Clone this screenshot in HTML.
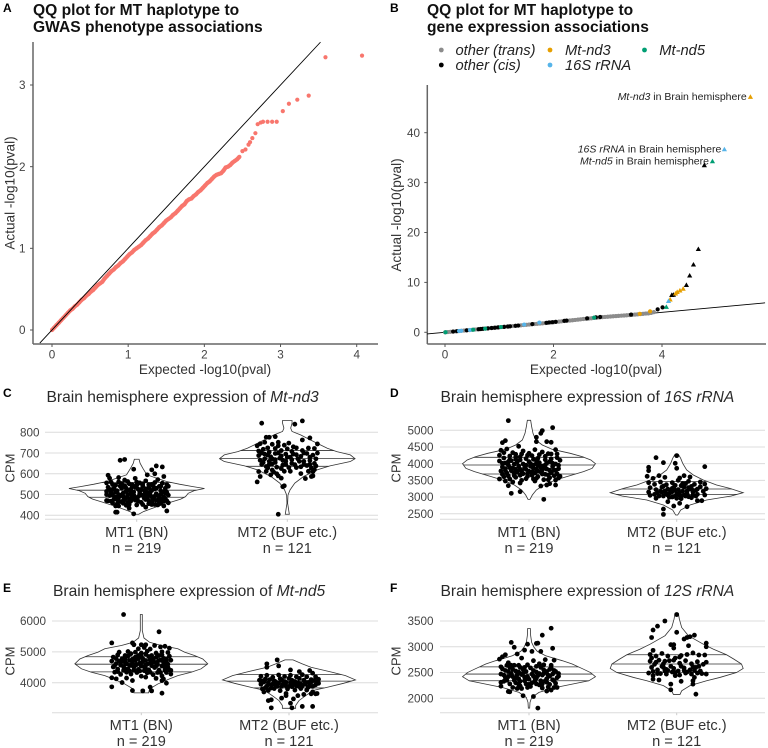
<!DOCTYPE html>
<html lang="en">
<head>
<meta charset="utf-8">
<title>QQ plots and violin plots for MT haplotype associations</title>
<style>
html,body{margin:0;padding:0;background:#fff;width:768px;height:748px;overflow:hidden}
svg{display:block;font-family:"Liberation Sans",sans-serif}
.pt{font-weight:bold;font-size:15.6px;fill:#111}
.tag{font-weight:bold;font-size:12px;fill:#000}
.vt{font-size:15.6px;fill:#2a2a2a}
.at{font-size:13.6px;fill:#333}
.cpm{font-size:13px;fill:#333}
.leg{font-size:14.7px;font-style:italic;fill:#222}
.an{font-size:10.5px;fill:#222}
i,.it{font-style:italic}
</style>
</head>
<body>
<svg id="fig" xmlns="http://www.w3.org/2000/svg" width="768" height="748" viewBox="0 0 768 748">
<rect width="768" height="748" fill="#fff"/>
<text class="tag" x="3" y="12">A</text>
<text class="pt" x="33" y="15">QQ plot for MT haplotype to</text>
<text class="pt" x="33" y="32">GWAS phenotype associations</text>
<text class="tag" x="390" y="12">B</text>
<text class="pt" x="427" y="15">QQ plot for MT haplotype to</text>
<text class="pt" x="427" y="32">gene expression associations</text>
<text class="at" x="205" y="374" text-anchor="middle">Expected -log10(pval)</text>
<text class="at" x="596" y="374" text-anchor="middle">Expected -log10(pval)</text>
<text class="at" transform="translate(14.5,193) rotate(-90)" text-anchor="middle">Actual -log10(pval)</text>
<text class="at" transform="translate(401,215) rotate(-90)" text-anchor="middle">Actual -log10(pval)</text>
<g>
<circle cx="441.3" cy="50" r="2.4" fill="#8c8c8c"/>
<text class="leg" x="455.5" y="55">other (trans)</text>
<circle cx="441.3" cy="65" r="2.4" fill="#000"/>
<text class="leg" x="455.5" y="70">other (cis)</text>
<circle cx="550" cy="50" r="2.4" fill="#E69F00"/>
<text class="leg" x="565" y="55">Mt-nd3</text>
<circle cx="550" cy="65" r="2.4" fill="#56B4E9"/>
<text class="leg" x="565" y="70">16S rRNA</text>
<circle cx="644.5" cy="50" r="2.4" fill="#009E73"/>
<text class="leg" x="659.3" y="55">Mt-nd5</text>
</g>
<text class="tag" x="3" y="397">C</text>
<text class="vt" x="46.5" y="402">Brain hemisphere expression of <tspan class="it">Mt-nd3</tspan></text>
<text class="cpm" transform="translate(14.5,468) rotate(-90)" text-anchor="middle">CPM</text>
<text class="tag" x="390" y="397">D</text>
<text class="vt" x="440.5" y="402">Brain hemisphere expression of <tspan class="it">16S rRNA</tspan></text>
<text class="cpm" transform="translate(400.5,468) rotate(-90)" text-anchor="middle">CPM</text>
<text class="tag" x="3" y="592">E</text>
<text class="vt" x="53" y="596">Brain hemisphere expression of <tspan class="it">Mt-nd5</tspan></text>
<text class="cpm" transform="translate(14.5,661) rotate(-90)" text-anchor="middle">CPM</text>
<text class="tag" x="390" y="592">F</text>
<text class="vt" x="440.5" y="596">Brain hemisphere expression of <tspan class="it">12S rRNA</tspan></text>
<text class="cpm" transform="translate(400.5,661) rotate(-90)" text-anchor="middle">CPM</text>
<text class="an" x="746.7" y="100" text-anchor="end"><tspan class="it">Mt-nd3</tspan> in Brain hemisphere</text>
<text class="an" x="721.3" y="152.5" text-anchor="end"><tspan class="it">16S rRNA</tspan> in Brain hemisphere</text>
<text class="an" x="709" y="164.5" text-anchor="end"><tspan class="it">Mt-nd5</tspan> in Brain hemisphere</text>
</svg>
<script>
/* ---------- Panel A data ---------- */
const gwasTicksX = [0,1,2,3,4];
const gwasTicksY = [0,1,2,3];
const gwasExpected = [0,.03,.06,.09,.12,.15,.18,.21,.24,.27,.3,.33,.36,.39,.42,.45,.48,.51,.54,.57,.6,.63,.66,.69,.72,.75,.78,.81,.84,.87,.9,.93,.96,.99,1.02,1.05,1.08,1.11,1.14,1.17,1.2,1.23,1.26,1.29,1.32,1.35,1.38,1.41,1.44,1.47,1.5,1.53,1.56,1.59,1.62,1.65,1.68,1.71,1.74,1.77,1.8,1.83,1.86,1.89,1.92,1.95,1.98,2.01,2.04,2.07,2.1,2.13,2.16,2.19,2.22,2.25,2.28,2.31,2.34,2.37,2.4,2.43,2.46,2.5,2.54,2.58,2.6,2.63,2.67,2.7,2.74,2.77,2.83,2.89,2.95,3.03,3.11,3.22,3.37,3.59,4.07];
const gwasActual = [0,.03,.06,.09,.12,.15,.18,.21,.24,.26,.29,.31,.34,.37,.39,.42,.44,.47,.49,.52,.55,.57,.59,.63,.66,.69,.72,.74,.77,.79,.82,.84,.87,.9,.93,.95,.98,1.0,1.02,1.04,1.07,1.1,1.12,1.15,1.18,1.2,1.23,1.26,1.28,1.31,1.34,1.36,1.38,1.41,1.43,1.46,1.49,1.52,1.54,1.58,1.6,1.61,1.64,1.66,1.69,1.71,1.74,1.77,1.8,1.82,1.85,1.88,1.9,1.91,1.92,1.95,1.99,2.0,2.02,2.05,2.07,2.09,2.12,2.19,2.21,2.27,2.3,2.35,2.41,2.52,2.54,2.55,2.55,2.55,2.55,2.68,2.77,2.82,2.87,3.34,3.36];

/* ---------- Panel B data ---------- */
const eqtlTicksX = [0,2,4];
const eqtlTicksY = [0,10,20,30,40];
const transExpected = [0,.05,.1,.15,.2,.25,.3,.35,.4,.45,.5,.55,.6,.65,.7,.75,.8,.85,.9,.95,1,1.05,1.1,1.15,1.2,1.25,1.3,1.35,1.4,1.45,1.5,1.55,1.6,1.65,1.7,1.75,1.8,1.85,1.9,1.95,2,2.05,2.1,2.15,2.2,2.25,2.3,2.35,2.4,2.45,2.5,2.55,2.6,2.65,2.7,2.75,2.8,2.85,2.9,2.95,3,3.05,3.1,3.15,3.2,3.25,3.3,3.35,3.4,3.45,3.5,3.55,3.6,3.65,3.7,3.75,3.8,3.85];
const transActual = [0,.05,.1,.15,.2,.25,.3,.35,.4,.45,.5,.55,.6,.65,.7,.75,.8,.85,.9,.95,1,1.05,1.1,1.15,1.2,1.25,1.3,1.35,1.4,1.45,1.5,1.55,1.6,1.65,1.7,1.75,1.8,1.85,1.9,1.96,2.02,2.08,2.14,2.2,2.26,2.3,2.36,2.42,2.48,2.54,2.6,2.66,2.72,2.76,2.82,2.88,2.94,2.99,3.04,3.08,3.12,3.17,3.21,3.25,3.29,3.33,3.37,3.41,3.45,3.5,3.55,3.6,3.65,3.7,3.76,3.8,3.9,4.05];
const cisExpected = [.15,.22,.4,.62,.66,.7,.79,.86,.92,.98,1.09,1.16,1.2,1.3,1.35,1.61,1.87,1.92,1.98,2.04,2.2,2.24,2.62,2.78,2.86,3.43,3.92,4.01,4.18,4.21,4.45,4.51,4.58,4.67,4.78];
const cisActual = [.15,.22,.4,.62,.66,.7,.79,.86,.92,.98,1.09,1.16,1.2,1.3,1.35,1.65,1.9,1.98,2.03,2.1,2.3,2.35,2.8,3,3.07,3.55,4.6,5,7.5,7.55,9.5,11.4,13.6,16.7,33.5];
const nd3Expected = [3.59,3.78,4.15,4.25,4.28,4.33,4.39,5.63];
const nd3Actual = [3.7,4.2,6.6,7.8,8.1,8.4,8.75,47.2];
const rrna16Expected = [.26,.3,.46,1.46,1.74,4.12,5.15];
const rrna16Actual = [.26,.3,.46,1.55,1.95,6.3,36.7];
const nd5Expected = [.01,.52,.74,1.03,2.75,4.08,4.93];
const nd5Actual = [.01,.52,.74,1.05,2.95,5.1,34.3];

/* ---------- Violin data: categories, ticks, outlines [value, relative width], quartiles, jitter points [jitter%, value] ---------- */
const groupLabels = ["MT1 (BN)","MT2 (BUF etc.)"];
const groupCounts = ["n = 219","n = 121"];
const nd3Ticks = [400,500,600,700,800];
const rrna16Ticks = [2500,3000,3500,4000,4500,5000];
const nd5Ticks = [4000,5000,6000];
const rrna12Ticks = [2000,2500,3000,3500];

const nd3Mt1Shape = [[670,.035],[651,.05],[627,.09],[595,.15],[563,.44],[550,.63],[538,.83],[529,1],[519,.85],[506,.76],[490,.72],[478,.65],[463,.5],[442,.3],[418,.1],[405,.03]];
const nd3Mt1Quartiles = [558,521,487];
const nd3Mt2Shape = [[857,.07],[844,.07],[820,.05],[804,.07],[787,.2],[755,.39],[723,.59],[707,.73],[691,.93],[673,1],[659,.93],[638,.63],[619,.44],[587,.24],[555,.11],[522,.04],[498,.01],[458,.005],[426,.02],[405,.03]];
const nd3Mt2Quartiles = [712,673,636];
const nd3Mt1Points = [[-11,665],[-8,669],[13,638],[17,633],[10,619],[-2,622],[7,595],[12,600],[18,587],[-19,593],[-18,579],[-12,582],[-14,415],[-13,415],[-2,407],[20,421],[6,439],[-5,434],[-14,445],[-12,445],[-20,471],[18,445],[14,450],[0,450],[-20,556],[-16,548],[-12,561],[-8,570],[-5,552],[-1,578],[2,556],[6,566],[10,549],[14,572],[17,555],[20,548],[-19,535],[-15,528],[-11,541],[-7,531],[-3,538],[1,526],[4,542],[8,533],[12,527],[15,539],[19,530],[21,540],[-20,515],[-17,509],[-13,518],[-9,507],[-6,520],[-2,512],[2,505],[5,519],[9,511],[13,504],[16,518],[20,510],[-18,495],[-14,488],[-10,498],[-7,485],[-3,493],[0,484],[3,497],[7,489],[11,482],[14,495],[18,487],[21,497],[-19,470],[-15,478],[-11,466],[-8,476],[-4,468],[-1,473],[3,462],[6,476],[10,465],[13,472],[17,478],[20,470],[-13,455],[-9,458],[-5,452],[8,456],[16,458],[12,452],[-16,525],[-4,505],[3,525],[10,490],[-8,543],[7,510],[-12,500],[16,500],[0,545],[-6,498],[11,540],[19,505],[-17,560],[-14,545],[-10,553],[-6,563],[-3,548],[0,560],[4,552],[8,548],[12,558],[16,540],[19,520],[-18,525],[-14,512],[-10,530],[-7,515],[-4,525],[-1,535],[2,515],[6,528],[10,520],[13,530],[17,510],[-20,500],[-16,498],[-12,485],[-9,490],[-5,480],[-2,498],[1,490],[5,500],[9,495],[12,492],[15,480],[19,480],[-17,468],[-13,475],[-9,470],[-6,462],[-2,480],[1,468],[5,482],[8,472],[11,475],[15,465],[18,468],[21,460],[-16,460],[-7,448],[4,452],[10,452]];
const nd3Mt2Points = [[-17,844],[5,839],[10,855],[-6,405],[-20,561],[-2,542],[-3,538],[15,773],[10,763],[20,744],[-8,779],[-14,776],[-12,776],[17,590],[12,577],[16,587],[9,601],[-4,579],[-18,587],[-19,611],[-20,735],[-18,745],[-15,752],[-10,742],[-6,752],[-2,738],[1,748],[4,730],[-19,710],[-16,718],[-12,705],[-8,722],[-4,712],[0,720],[3,708],[6,725],[10,712],[14,724],[18,722],[-19,688],[-15,695],[-11,682],[-8,698],[-4,686],[-1,695],[2,680],[6,692],[9,684],[13,698],[17,690],[20,700],[-18,665],[-15,672],[-12,660],[-8,668],[-5,675],[-1,660],[3,668],[7,672],[11,660],[15,664],[19,672],[-17,645],[-14,635],[-10,648],[-7,632],[-3,642],[1,630],[5,644],[9,634],[13,640],[16,628],[19,638],[-14,612],[-10,618],[-7,600],[-2,612],[2,612],[14,612],[18,620],[-11,595],[-6,590],[-17,700],[-13,690],[-10,672],[-6,700],[-3,665],[0,680],[4,695],[8,660],[11,700],[15,680],[-16,655],[-12,645],[-8,655],[-4,625],[-1,645],[3,650],[6,630],[11,645],[15,645],[18,650],[-13,725],[-6,735],[-9,608],[-13,628],[17,610]];

const rrna16Mt1Shape = [[5300,.025],[5110,.04],[4910,.06],[4710,.1],[4560,.2],[4430,.35],[4310,.62],[4210,.8],[4110,.93],[4000,1],[3860,.95],[3760,.82],[3660,.65],[3510,.4],[3360,.22],[3210,.11],[3060,.05],[2930,.015]];
const rrna16Mt1Quartiles = [4190,3960,3690];
const rrna16Mt2Shape = [[4280,.025],[4160,.06],[4010,.09],[3810,.15],[3660,.25],[3510,.4],[3360,.6],[3260,.8],[3130,1],[3030,.82],[2910,.45],[2760,.2],[2610,.06],[2460,.015]];
const rrna16Mt2Quartiles = [3470,3240,3080];
const rrna16Mt1Points = [[-14,5290],[16,5080],[9,4990],[8,4910],[5,4790],[5,4660],[12,4660],[15,4640],[-18,4630],[-16,4690],[10,2930],[-12,3110],[-6,3160],[-14,3340],[8,3330],[-19,4400],[-15,4440],[-11,4330],[-7,4520],[-4,4380],[0,4310],[4,4420],[9,4350],[13,4300],[18,4420],[-20,4250],[-17,4170],[-13,4230],[-9,4280],[-6,4200],[-2,4150],[2,4240],[6,4160],[11,4220],[15,4140],[19,4180],[-20,4080],[-16,4020],[-12,4090],[-8,4050],[-4,3990],[0,4060],[3,3960],[7,4030],[11,3960],[14,4060],[18,3990],[21,4100],[-18,3900],[-14,3960],[-11,3860],[-7,3930],[-3,3870],[1,3920],[5,3840],[8,3890],[12,3840],[16,3910],[20,3850],[-19,3780],[-15,3720],[-12,3790],[-8,3740],[-4,3700],[0,3770],[4,3720],[8,3760],[11,3680],[15,3730],[19,3700],[-20,3540],[-17,3610],[-13,3540],[-9,3590],[-5,3500],[-1,3620],[3,3540],[6,3610],[10,3520],[14,3580],[18,3510],[21,3620],[-16,3480],[-6,3420],[-11,3450],[14,3400],[18,3360],[12,3360],[4,3480],[-2,3830],[2,3650],[9,3810],[13,3660],[17,3800],[6,3950],[-10,3640],[-6,3830],[-16,3850],[5,4090],[-9,4130],[-17,4330],[-13,4120],[-9,4200],[-5,4290],[-1,4250],[3,4130],[7,4270],[11,4120],[15,4290],[19,4290],[-18,4010],[-14,4060],[-10,3980],[-6,4110],[-2,3950],[1,4000],[5,4010],[9,3930],[12,4020],[16,4010],[20,3950],[-16,3790],[-13,3880],[-9,3830],[-5,3780],[-1,3700],[3,3850],[6,3780],[10,3870],[14,3800],[18,3800],[-18,3680],[-14,3630],[-10,3720],[-6,3650],[-2,3550],[2,3740],[5,3560],[9,3690],[13,3520],[17,3640],[20,3570]];
const rrna16Mt2Points = [[-14,4180],[-9,4030],[0,4240],[19,3910],[-19,3890],[-19,3790],[-1,4010],[0,3860],[-9,2640],[-9,2480],[-2,2730],[7,2710],[17,2890],[14,2890],[-6,2860],[2,2810],[-20,3620],[-16,3560],[-12,3640],[-8,3590],[2,3570],[5,3640],[9,3600],[-19,3430],[-15,3380],[-11,3450],[-7,3370],[-3,3430],[1,3500],[4,3400],[8,3470],[12,3380],[16,3450],[19,3390],[-18,3280],[-14,3220],[-10,3300],[-6,3240],[-2,3290],[1,3220],[5,3300],[9,3240],[13,3200],[16,3310],[20,3250],[-19,3150],[-15,3080],[-11,3170],[-7,3100],[-3,3160],[0,3090],[4,3170],[7,3100],[11,3150],[14,3080],[18,3170],[-18,3050],[-14,2960],[-9,3030],[-5,2990],[-1,3020],[3,2950],[6,3030],[10,2980],[13,3030],[19,3060],[-10,3140],[-1,3350],[7,3180],[2,3060],[-4,3200],[11,3060],[-13,3130],[-8,3180],[-5,3110],[-1,3200],[2,3130],[5,3060],[8,3280],[11,3200],[-6,3060],[-3,3000],[0,2960],[3,3020],[8,3010],[-12,3030],[-3,3260],[3,3340],[6,3400],[10,3320],[-9,3330],[14,3240]];

const nd5Mt1Shape = [[6210,.015],[5690,.015],[5450,.04],[5310,.125],[5205,.3],[5100,.55],[4990,.65],[4880,.8],[4770,.925],[4610,1],[4450,.9],[4340,.75],[4230,.55],[4120,.42],[3960,.25],[3800,.125],[3670,.11]];
const nd5Mt1Quartiles = [4840,4600,4350];
const nd5Mt2Shape = [[4740,.06],[4610,.2],[4500,.33],[4340,.65],[4230,.85],[4090,1],[3980,.82],[3850,.57],[3750,.37],[3580,.25],[3420,.15],[3260,.1],[3170,.1]];
const nd5Mt2Quartiles = [4265,4050,3830];
const nd5Mt1Points = [[-12,6210],[12,5650],[-20,5290],[-6,5290],[-5,5230],[0,5230],[3,5230],[9,5205],[-20,3865],[-6,3745],[1,3735],[7,3735],[14,3660],[6,3855],[17,3985],[-13,4005],[-6,4070],[-20,4160],[-17,4125],[16,5180],[19,5120],[13,5160],[-2,5100],[2,5140],[6,5090],[-15,4990],[-9,5010],[-4,4990],[0,4960],[4,5020],[10,4960],[14,5000],[18,4980],[-19,4830],[-16,4900],[-13,4780],[-9,4860],[-6,4760],[-2,4880],[1,4780],[5,4850],[8,4770],[12,4880],[15,4790],[19,4860],[-20,4700],[-17,4620],[-13,4690],[-10,4610],[-6,4660],[-3,4590],[1,4680],[4,4600],[8,4670],[11,4590],[15,4670],[18,4600],[20,4730],[-19,4510],[-16,4440],[-12,4520],[-9,4440],[-5,4500],[-2,4430],[2,4510],[5,4420],[9,4490],[12,4410],[16,4500],[19,4420],[-18,4340],[-14,4270],[-10,4340],[-7,4280],[-3,4330],[0,4210],[4,4320],[8,4260],[11,4330],[14,4220],[17,4330],[20,4280],[-10,4150],[3,4180],[10,4140],[14,4070],[15,4120],[-2,4780],[12,4720],[-8,4560],[6,4740],[16,4560],[-11,4760],[3,4450],[-17,4780],[-11,4880],[-7,4940],[-4,4830],[0,4850],[3,4930],[7,4880],[10,4820],[14,4900],[17,4760],[-15,4700],[-11,4660],[-8,4720],[-4,4720],[-1,4640],[3,4720],[6,4640],[10,4660],[13,4730],[17,4670],[-18,4560],[-14,4570],[-11,4450],[-7,4560],[-4,4570],[0,4540],[3,4570],[7,4550],[10,4540],[14,4540],[18,4500],[-16,4360],[-12,4400],[-8,4380],[-5,4400],[-1,4380],[2,4390],[6,4340],[13,4330],[16,4400],[20,4400]];
const nd5Mt2Points = [[-8,4740],[-15,4610],[-15,4500],[-7,4545],[1,4415],[7,4360],[-12,3185],[2,3185],[9,3230],[16,3230],[-14,3420],[-12,3445],[-5,3500],[-2,3580],[1,3335],[3,3475],[6,3580],[18,3640],[15,3640],[14,4395],[16,4310],[-19,4210],[-15,4240],[-11,4180],[-7,4250],[-3,4200],[1,4240],[5,4190],[9,4260],[12,4190],[18,4190],[20,4110],[-20,4080],[-17,4020],[-13,4100],[-9,4030],[-5,4090],[-2,4010],[2,4080],[6,4000],[10,4080],[13,4010],[17,4070],[20,3980],[-19,3950],[-15,3890],[-11,3960],[-8,3880],[-4,3960],[0,3880],[3,3950],[7,3870],[11,3950],[14,3890],[18,3930],[-18,3800],[-14,3750],[-10,3810],[-6,3740],[-1,3800],[4,3760],[8,3810],[12,3760],[16,3700],[19,3650],[-17,3700],[-2,3650],[10,3620],[-16,4120],[-6,4130],[7,4140],[15,4100],[-12,3920],[1,3990],[-18,4060],[-14,4000],[-10,4060],[-7,3990],[-3,4040],[0,4140],[4,4040],[8,3960],[11,4020],[15,4020],[19,4040],[-16,3840],[-12,3830],[-9,3930],[-5,3880],[-2,3900],[2,3870],[5,3900],[9,3900],[13,3850],[16,3880]];

const rrna12Mt1Shape = [[3355,.02],[3215,.025],[3085,.04],[2990,.075],[2910,.125],[2825,.25],[2730,.5],[2665,.65],[2565,.82],[2500,.925],[2420,1],[2340,.9],[2275,.65],[2210,.4],[2115,.15],[2015,.04],[1920,.015],[1810,.01]];
const rrna12Mt1Quartiles = [2610,2470,2340];
const rrna12Mt2Shape = [[3650,.025],[3535,.04],[3375,.075],[3215,.175],[3050,.4],[2955,.55],[2845,.75],[2760,.86],[2665,.975],[2580,1],[2500,.9],[2405,.65],[2340,.45],[2245,.2],[2145,.075],[2075,.05]];
const rrna12Mt2Quartiles = [2845,2665,2500];
const rrna12Mt1Points = [[15,3360],[9,3225],[-12,3085],[-1,3050],[-10,2990],[5,3065],[6,3070],[16,2970],[6,1810],[3,2035],[-4,2050],[-13,2125],[-19,2235],[-19,2310],[19,2210],[-8,2190],[-1,2210],[-18,2805],[-16,2845],[-20,2760],[-8,2860],[-3,2935],[2,2910],[8,2910],[-14,2690],[-10,2640],[-5,2780],[-1,2650],[3,2730],[7,2670],[11,2750],[15,2640],[17,2740],[-19,2610],[-16,2540],[-13,2600],[-9,2530],[-6,2600],[-2,2520],[1,2590],[5,2510],[8,2600],[12,2520],[15,2590],[18,2520],[-19,2470],[-16,2400],[-12,2480],[-9,2400],[-5,2460],[-2,2390],[2,2470],[5,2390],[9,2450],[12,2380],[16,2470],[19,2400],[-17,2330],[-13,2280],[-10,2350],[-7,2270],[-3,2340],[0,2270],[4,2340],[7,2260],[11,2340],[14,2270],[17,2340],[-14,2130],[-11,2210],[-5,2190],[9,2200],[12,2140],[15,2160],[18,2290],[-17,2450],[-7,2510],[-4,2560],[3,2430],[10,2550],[14,2430],[-15,2640],[20,2480],[2,2300],[-6,2330],[7,2480],[-18,2570],[-14,2520],[-11,2560],[-8,2460],[-4,2490],[-1,2420],[3,2540],[6,2440],[10,2480],[13,2450],[17,2540],[20,2430],[-15,2350],[-11,2420],[-7,2380],[-3,2410],[0,2370],[4,2400],[8,2340],[12,2310],[16,2360],[-14,2420],[-9,2300],[-6,2240],[-2,2280],[1,2230],[5,2280],[9,2280],[13,2220],[17,2210],[-12,2640],[-7,2640],[-3,2600],[5,2620],[10,2650],[14,2560]];
const rrna12Mt2Points = [[0,3625],[-8,3500],[-13,3400],[-16,3325],[-17,3180],[0,3280],[5,3150],[7,3180],[9,3195],[12,3225],[20,3070],[20,3000],[-4,3040],[-2,3040],[-2,2975],[8,3020],[13,2080],[-4,2165],[-4,2275],[-16,2370],[-12,2355],[3,2330],[11,2340],[11,2275],[12,2405],[-18,2850],[-16,2930],[-14,2820],[-10,2870],[-6,2820],[-1,2780],[3,2830],[7,2850],[11,2880],[15,2840],[19,2840],[-18,2720],[-15,2660],[-12,2740],[-9,2670],[-5,2730],[-2,2740],[2,2680],[6,2730],[10,2670],[14,2710],[18,2660],[20,2700],[-17,2600],[-13,2550],[-9,2600],[-6,2540],[-2,2580],[1,2530],[5,2590],[9,2550],[13,2600],[16,2530],[20,2470],[-19,2490],[-16,2440],[-11,2480],[-7,2470],[-3,2510],[2,2450],[6,2490],[10,2470],[14,2490],[17,2480],[-17,2780],[-14,2700],[-10,2620],[-7,2560],[-4,2620],[-1,2500],[3,2620],[7,2510],[11,2610],[15,2620],[-13,2480],[-8,2530],[-1,2440],[5,2540],[12,2540],[-16,2520],[-8,2720],[2,2800]];

/* ---------- Drawing ---------- */
const NS = "http://www.w3.org/2000/svg";
const fig = document.getElementById("fig");
function add(parent, tag, attrs, text) {
  const el = document.createElementNS(NS, tag);
  for (const k in attrs) el.setAttribute(k, attrs[k]);
  if (text !== undefined) el.textContent = text;
  parent.appendChild(el);
  return el;
}
function linear(d0, d1, r0, r1) {
  return v => r0 + (v - d0) * (r1 - r0) / (d1 - d0);
}
function triangle(cx, cy, r) {
  return (cx - r) + "," + (cy + r * .8) + " " + cx + "," + (cy - r * .95) + " " + (cx + r) + "," + (cy + r * .8);
}

function drawQQAxes(g, x, y, ticksX, ticksY, left, right, top, bottom, labelEnd) {
  const yLine = add(g, "line", {x1: left, x2: left, y1: top, y2: bottom, stroke: "#666", "stroke-width": 1.5});
  
  
  const xLine = add(g, "line", {x1: left, x2: right, y1: bottom, y2: bottom, stroke: "#666", "stroke-width": 1.5});
  
  
  ticksX.forEach(t => {
    const tick = add(g, "line", {x1: x(t), x2: x(t), y1: bottom, y2: bottom + 3, stroke: "#555", "stroke-width": 1});
    
    
    const label = add(g, "text", {x: x(t), y: bottom + 14.5, "text-anchor": "middle", "font-size": 11.7, fill: "#444"}, t);
    
    
  });
  ticksY.forEach(t => {
    const tick = add(g, "line", {x1: left - 3, x2: left, y1: y(t), y2: y(t), stroke: "#555", "stroke-width": 1});
    
    
    const label = add(g, "text", {x: labelEnd, y: y(t) + 4.2, "text-anchor": "end", "font-size": 11.7, fill: "#444"}, t);
    
    
  });
}

/* Panel A */
(function () {
  const g = add(fig, "g", {});
  
  
  const x = linear(0, 4, 52, 356.7);
  const y = linear(0, 3, 330, 85);
  drawQQAxes(g, x, y, gwasTicksX, gwasTicksY, 33, 378, 42, 344, 25.5);
  const bandPoints = gwasExpected.slice(0, 83).map((e, i) => x(e) + "," + y(gwasActual[i])).join(" ");
  const band = add(g, "polyline", {points: bandPoints, fill: "none", stroke: "#f8766d", "stroke-width": 4.2, "stroke-linejoin": "round"});
  
  
  gwasExpected.forEach((e, i) => {
    const p = add(g, "circle", {cx: x(e), cy: y(gwasActual[i]), r: 2.1, fill: "#f8766d"});
    
    
  });
  const diag = add(g, "line", {x1: x(-.16), y1: y(-.16), x2: x(3.525), y2: y(3.525), stroke: "#000", "stroke-width": .9});
  
  
})();

/* Panel B */
(function () {
  const g = add(fig, "g", {});
  
  
  const x = linear(0, 4, 445, 662);
  const y = linear(0, 40, 332.3, 132.7);
  drawQQAxes(g, x, y, eqtlTicksX, eqtlTicksY, 427.3, 766, 85, 344, 420);
  const diag = add(g, "line", {x1: x(-.33), y1: y(-.33), x2: x(5.9), y2: y(5.9), stroke: "#000", "stroke-width": .9});
  
  
  const bandPoints = transExpected.map((e, i) => x(e) + "," + y(transActual[i])).join(" ");
  const band = add(g, "polyline", {points: bandPoints, fill: "none", stroke: "#8c8c8c", "stroke-width": 3.6, "stroke-linejoin": "round"});
  
  
  function series(xs, ys, color, name) {
    xs.forEach((e, i) => {
      const a = ys[i];
      const m = a >= 5.05
        ? add(g, "polygon", {points: triangle(x(e), y(a), 2.6), fill: color})
        : add(g, "circle", {cx: x(e), cy: y(a), r: 2.1, fill: color});
      
      
    });
  }
  series(transExpected, transActual, "#8c8c8c", "other-trans-point");
  series(cisExpected, cisActual, "#000", "other-cis-point");
  series(nd3Expected, nd3Actual, "#E69F00", "mt-nd3-point");
  series(rrna16Expected, rrna16Actual, "#56B4E9", "16s-rrna-point");
  series(nd5Expected, nd5Actual, "#009E73", "mt-nd5-point");
})();

/* Violin panels */
function drawViolinPanel(opt) {
  const g = add(fig, "g", {});
  
  
  const y = linear(opt.d0, opt.d1, opt.r0, opt.r1);
  const spacing = opt.c2 - opt.c1;
  const hw = spacing * .45;
  opt.ticks.forEach(t => {
    const grid = add(g, "line", {x1: opt.left, x2: opt.right, y1: y(t), y2: y(t), stroke: "#dcdcdc", "stroke-width": 1});
    
    
    const label = add(g, "text", {x: opt.labelEnd, y: y(t) + 4.2, "text-anchor": "end", "font-size": 11.7, fill: "#444"}, t);
    
    
  });
  const base = add(g, "line", {x1: opt.left, x2: opt.right, y1: opt.bottom, y2: opt.bottom, stroke: "#dcdcdc", "stroke-width": 1});
  
  
  opt.groups.forEach((group, gi) => {
    const cx = gi === 0 ? opt.c1 : opt.c2;
    const tick = add(g, "line", {x1: cx, x2: cx, y1: opt.bottom, y2: opt.bottom + 2.5, stroke: "#ccc", "stroke-width": 1});
    
    
    const left = group.shape.map(s => (cx - s[1] * hw) + " " + y(s[0]));
    const right = group.shape.slice().reverse().map(s => (cx + s[1] * hw) + " " + y(s[0]));
    const outline = add(g, "path", {d: "M" + left.concat(right).join("L") + "Z", fill: "#fff", stroke: "#333", "stroke-width": .8});
    
    
    group.quartiles.forEach(q => {
      let w = 0;
      for (let i = 0; i < group.shape.length - 1; i++) {
        const a = group.shape[i], b = group.shape[i + 1];
        if (q <= a[0] && q >= b[0]) w = a[1] + (b[1] - a[1]) * (a[0] - q) / (a[0] - b[0]);
      }
      const line = add(g, "line", {x1: cx - w * hw, x2: cx + w * hw, y1: y(q), y2: y(q), stroke: "#333", "stroke-width": .8});
      
      
    });
    group.points.forEach(p => {
      const dot = add(g, "circle", {cx: cx + p[0] / 100 * spacing, cy: y(p[1]), r: 2.4, fill: "#000"});
      
      
    });
    const lab = add(g, "text", {x: cx, y: opt.labelY, "text-anchor": "middle", "font-size": 14.6, fill: "#333"}, groupLabels[gi]);
    
    
    const cnt = add(g, "text", {x: cx, y: opt.labelY + 16, "text-anchor": "middle", "font-size": 14.6, fill: "#333"}, groupCounts[gi]);
    
    
  });
}
drawViolinPanel({name: "panel-c-mt-nd3-violin", ticks: nd3Ticks, d0: 400, d1: 800, r0: 515.3, r1: 432.3, left: 45, right: 378, bottom: 519.3, c1: 136.7, c2: 287.3, labelEnd: 39.5, labelY: 537, groups: [{shape: nd3Mt1Shape, quartiles: nd3Mt1Quartiles, points: nd3Mt1Points}, {shape: nd3Mt2Shape, quartiles: nd3Mt2Quartiles, points: nd3Mt2Points}]});
drawViolinPanel({name: "panel-d-16s-rrna-violin", ticks: rrna16Ticks, d0: 2500, d1: 5000, r0: 513.7, r1: 430.3, left: 440, right: 765, bottom: 519.3, c1: 529, c2: 676.7, labelEnd: 433.5, labelY: 537, groups: [{shape: rrna16Mt1Shape, quartiles: rrna16Mt1Quartiles, points: rrna16Mt1Points}, {shape: rrna16Mt2Shape, quartiles: rrna16Mt2Quartiles, points: rrna16Mt2Points}]});
drawViolinPanel({name: "panel-e-mt-nd5-violin", ticks: nd5Ticks, d0: 4000, d1: 6000, r0: 682.7, r1: 621, left: 52, right: 378, bottom: 712.7, c1: 141.3, c2: 289, labelEnd: 46, labelY: 730, groups: [{shape: nd5Mt1Shape, quartiles: nd5Mt1Quartiles, points: nd5Mt1Points}, {shape: nd5Mt2Shape, quartiles: nd5Mt2Quartiles, points: nd5Mt2Points}]});
drawViolinPanel({name: "panel-f-12s-rrna-violin", ticks: rrna12Ticks, d0: 2000, d1: 3500, r0: 698.3, r1: 621, left: 440, right: 765, bottom: 712.7, c1: 529, c2: 676.7, labelEnd: 433.5, labelY: 730, groups: [{shape: rrna12Mt1Shape, quartiles: rrna12Mt1Quartiles, points: rrna12Mt1Points}, {shape: rrna12Mt2Shape, quartiles: rrna12Mt2Quartiles, points: rrna12Mt2Points}]});
</script>
</body>
</html>
